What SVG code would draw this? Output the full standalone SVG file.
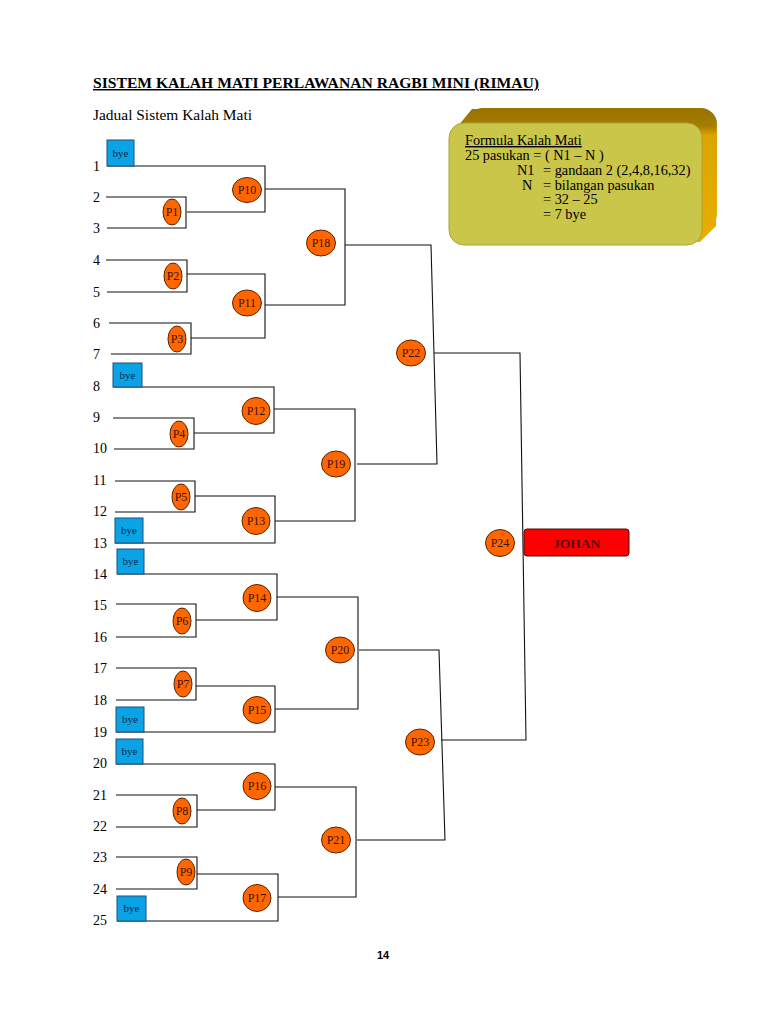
<svg xmlns="http://www.w3.org/2000/svg" width="768" height="1024" viewBox="0 0 768 1024">
<defs>
<linearGradient id="ext" x1="0" y1="0" x2="0" y2="1">
<stop offset="0" stop-color="#9a7300"/>
<stop offset="0.13" stop-color="#a67d00"/>
<stop offset="0.2" stop-color="#dca400"/>
<stop offset="1" stop-color="#e8ae00"/>
</linearGradient>
<style>
.t{font-family:"Liberation Serif","Times New Roman",serif;fill:#000}
.num{font-family:"Liberation Serif","Times New Roman",serif;font-size:14px;fill:#000}
.ln{fill:none;stroke:#111;stroke-width:1.1}
.m{fill:#ff6600;stroke:#5a2400;stroke-width:1}
.ml{font-family:"Liberation Serif","Times New Roman",serif;font-size:12px;fill:#3a1400;text-anchor:middle}
.bye{fill:#0aa3e6;stroke:#1d4f7a;stroke-width:1}
.byt{font-family:"Liberation Serif","Times New Roman",serif;font-size:11px;fill:#0b2a4a;text-anchor:middle}
.f{font-family:"Liberation Serif","Times New Roman",serif;font-size:14.3px;fill:#000}
</style>
</defs>
<rect width="768" height="1024" fill="#fff"/>

<text class="t" x="93" y="88" font-size="14.7" font-weight="bold" text-decoration="underline" textLength="446" lengthAdjust="spacingAndGlyphs">SISTEM KALAH MATI PERLAWANAN RAGBI MINI (RIMAU)</text>
<text class="t" x="93" y="120" font-size="14.7" textLength="159" lengthAdjust="spacingAndGlyphs">Jadual Sistem Kalah Mati</text>

<g id="formula">
<rect x="467" y="108" width="250" height="122" rx="16" fill="url(#ext)"/>
<path d="M453 132 L472 109 L705 109 L716 120 L716 226 L700 242 L460 242 Z" fill="url(#ext)"/>
<rect x="449" y="123" width="253" height="122" rx="15" fill="#c9c64a" stroke="#a9a636" stroke-width="1"/>
<text class="f" x="465" y="145" text-decoration="underline">Formula Kalah Mati</text>
<text class="f" x="465" y="160">25 pasukan = ( N1 – N )</text>
<text class="f" x="517" y="175">N1</text>
<text class="f" x="543" y="175">= gandaan 2 (2,4,8,16,32)</text>
<text class="f" x="522" y="190">N</text>
<text class="f" x="543" y="190">= bilangan pasukan</text>
<text class="f" x="543" y="204">= 32 – 25</text>
<text class="f" x="543" y="219">= 7 bye</text>
</g>

<g id="team-numbers">
<text class="num" x="93" y="171">1</text>
<text class="num" x="93" y="202">2</text>
<text class="num" x="93" y="233">3</text>
<text class="num" x="93" y="265">4</text>
<text class="num" x="93" y="297">5</text>
<text class="num" x="93" y="328">6</text>
<text class="num" x="93" y="359">7</text>
<text class="num" x="93" y="391">8</text>
<text class="num" x="93" y="422">9</text>
<text class="num" x="93" y="453">10</text>
<text class="num" x="93" y="485">11</text>
<text class="num" x="93" y="516">12</text>
<text class="num" x="93" y="548">13</text>
<text class="num" x="93" y="579">14</text>
<text class="num" x="93" y="610">15</text>
<text class="num" x="93" y="642">16</text>
<text class="num" x="93" y="673">17</text>
<text class="num" x="93" y="705">18</text>
<text class="num" x="93" y="737">19</text>
<text class="num" x="93" y="768">20</text>
<text class="num" x="93" y="800">21</text>
<text class="num" x="93" y="831">22</text>
<text class="num" x="93" y="862">23</text>
<text class="num" x="93" y="894">24</text>
<text class="num" x="93" y="925">25</text>
</g>

<g id="connectors">
<path class="ln" d="M107 166 H265 V212 H187"/>
<path class="ln" d="M106 197 H186 V228 H107"/>
<path class="ln" d="M106 260 H187 V292 H107"/>
<path class="ln" d="M187 274 H265 V338 H191"/>
<path class="ln" d="M109 323 H191 V354 H111"/>
<path class="ln" d="M265 189 H345 V305 H265"/>
<path class="ln" d="M345 245 H431 L437 464 H357"/>
<path class="ln" d="M434 353 H520 L526 740 H441"/>

<path class="ln" d="M113 387 H274 V433 H194"/>
<path class="ln" d="M113 418 H194 V449 H114"/>
<path class="ln" d="M115 481 H195 V512 H115"/>
<path class="ln" d="M195 496 H275 V543 H115"/>
<path class="ln" d="M274 409 H355 V521 H275"/>

<path class="ln" d="M117 574 H277 V620 H196"/>
<path class="ln" d="M116 604 H196 V637 H116"/>
<path class="ln" d="M116 668 H196 V700 H116"/>
<path class="ln" d="M196 686 H275 V732 H116"/>
<path class="ln" d="M277 597 H358 V709 H275"/>

<path class="ln" d="M116 764 H275 V810 H197"/>
<path class="ln" d="M116 795 H197 V827 H116"/>
<path class="ln" d="M116 857 H197 V889 H116"/>
<path class="ln" d="M197 874 H278 V921 H117"/>
<path class="ln" d="M275 787 H356 V897 H278"/>

<path class="ln" d="M359 650 H439 L445 840 H357"/>
</g>

<g id="byes">
<g id="bye1"><rect class="bye" x="107" y="140" width="27" height="26"/><text class="byt" x="120.5" y="157">bye</text></g>
<g id="bye8"><rect class="bye" x="113" y="363" width="29" height="24"/><text class="byt" x="127.5" y="379">bye</text></g>
<g id="bye13"><rect class="bye" x="115" y="518" width="28" height="25"/><text class="byt" x="129" y="534">bye</text></g>
<g id="bye14"><rect class="bye" x="117" y="549" width="27" height="25"/><text class="byt" x="130.5" y="565">bye</text></g>
<g id="bye19"><rect class="bye" x="116" y="707" width="28" height="25"/><text class="byt" x="130" y="723">bye</text></g>
<g id="bye20"><rect class="bye" x="116" y="739" width="27" height="25"/><text class="byt" x="129.5" y="755">bye</text></g>
<g id="bye25"><rect class="bye" x="117" y="896" width="29" height="25"/><text class="byt" x="131.5" y="912">bye</text></g>
</g>

<g id="P1"><ellipse class="m" cx="172" cy="212" rx="9" ry="13"/><text class="ml" x="172" y="216">P1</text></g>
<g id="P2"><ellipse class="m" cx="173" cy="276" rx="9" ry="13"/><text class="ml" x="173" y="280">P2</text></g>
<g id="P3"><ellipse class="m" cx="177" cy="339" rx="9" ry="13"/><text class="ml" x="177" y="343">P3</text></g>
<g id="P4"><ellipse class="m" cx="179" cy="434" rx="9" ry="13"/><text class="ml" x="179" y="438">P4</text></g>
<g id="P5"><ellipse class="m" cx="181" cy="497" rx="9" ry="13"/><text class="ml" x="181" y="501">P5</text></g>
<g id="P6"><ellipse class="m" cx="182" cy="621" rx="9" ry="13"/><text class="ml" x="182" y="625">P6</text></g>
<g id="P7"><ellipse class="m" cx="183" cy="684" rx="9" ry="13"/><text class="ml" x="183" y="688">P7</text></g>
<g id="P8"><ellipse class="m" cx="182" cy="811" rx="9" ry="13"/><text class="ml" x="182" y="815">P8</text></g>
<g id="P9"><ellipse class="m" cx="186" cy="872" rx="9" ry="13"/><text class="ml" x="186" y="876">P9</text></g>

<g id="P10"><ellipse class="m" cx="247" cy="190" rx="14.5" ry="12.5"/><text class="ml" x="247" y="194">P10</text></g>
<g id="P11"><ellipse class="m" cx="247" cy="303" rx="14.5" ry="13"/><text class="ml" x="247" y="307">P11</text></g>
<g id="P12"><ellipse class="m" cx="256" cy="411" rx="14" ry="13.5"/><text class="ml" x="256" y="415">P12</text></g>
<g id="P13"><ellipse class="m" cx="256" cy="521" rx="14" ry="13.5"/><text class="ml" x="256" y="525">P13</text></g>
<g id="P14"><ellipse class="m" cx="257" cy="598" rx="14" ry="13.5"/><text class="ml" x="257" y="602">P14</text></g>
<g id="P15"><ellipse class="m" cx="257" cy="710" rx="14" ry="13.5"/><text class="ml" x="257" y="714">P15</text></g>
<g id="P16"><ellipse class="m" cx="257" cy="786" rx="14" ry="13.5"/><text class="ml" x="257" y="790">P16</text></g>
<g id="P17"><ellipse class="m" cx="257" cy="898" rx="14" ry="13.5"/><text class="ml" x="257" y="902">P17</text></g>
<g id="P18"><ellipse class="m" cx="321" cy="243" rx="14.5" ry="13"/><text class="ml" x="321" y="247">P18</text></g>
<g id="P19"><ellipse class="m" cx="336" cy="464" rx="14.5" ry="13"/><text class="ml" x="336" y="468">P19</text></g>
<g id="P20"><ellipse class="m" cx="340" cy="650" rx="14.5" ry="13"/><text class="ml" x="340" y="654">P20</text></g>
<g id="P21"><ellipse class="m" cx="336" cy="840" rx="14.5" ry="13"/><text class="ml" x="336" y="844">P21</text></g>
<g id="P22"><ellipse class="m" cx="411" cy="353" rx="14.5" ry="13"/><text class="ml" x="411" y="357">P22</text></g>
<g id="P23"><ellipse class="m" cx="420" cy="742" rx="14.5" ry="13"/><text class="ml" x="420" y="746">P23</text></g>
<g id="P24"><ellipse class="m" cx="500" cy="543" rx="14.5" ry="13.5"/><text class="ml" x="500" y="547">P24</text></g>

<g id="johan"><rect x="524" y="529" width="105" height="27" rx="3" fill="#ff0000" stroke="#4a0a0a" stroke-width="1"/><text class="t" x="576.5" y="547.5" font-size="13.5" font-weight="bold" text-anchor="middle" style="fill:#5a0a0a">JOHAN</text></g>

<text x="383" y="959" font-family="Liberation Sans, Arial, sans-serif" font-size="11" font-weight="bold" text-anchor="middle" fill="#000">14</text>
</svg>
